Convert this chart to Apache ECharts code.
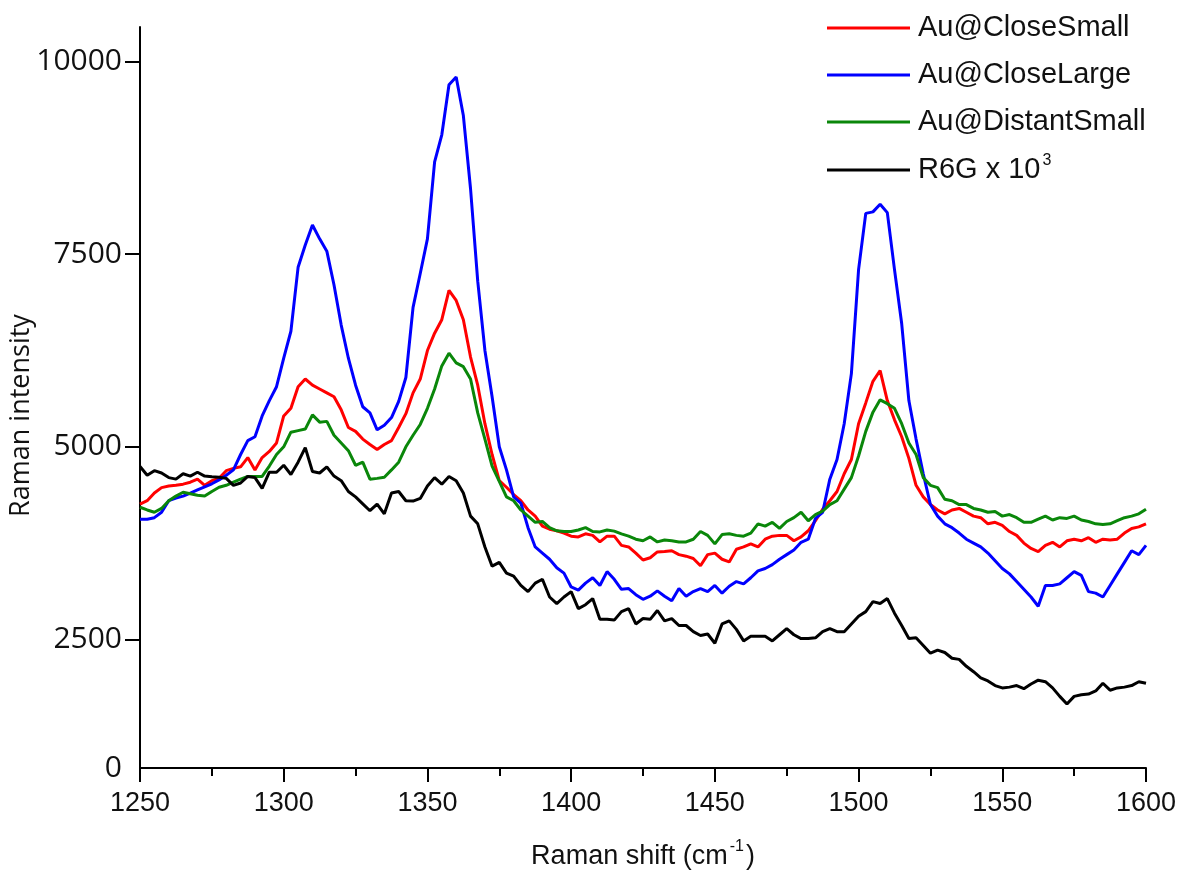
<!DOCTYPE html>
<html>
<head>
<meta charset="utf-8">
<script src="https://cdn.jsdelivr.net/npm/echarts@6/dist/echarts.min.js"></script>
<style>
html,body{margin:0;padding:0;background:#fff;}
#chart{width:1181px;height:872px;}
</style>
</head>
<body>
<div id="chart"></div>
<script>
// Raman shift (cm-1) sample positions
var ramanShift = [
1250,1252.5,1255,1257.5,1260,1262.5,1265,1267.5,1270,1272.5,
1275,1277.5,1280,1282.5,1285,1287.5,1290,1292.5,1295,1297.5,
1300,1302.5,1305,1307.5,1310,1312.5,1315,1317.5,1320,1322.5,
1325,1327.5,1330,1332.5,1335,1337.5,1340,1342.5,1345,1347.5,
1350,1352.5,1355,1357.5,1360,1362.5,1365,1367.5,1370,1372.5,
1375,1377.5,1380,1382.5,1385,1387.5,1390,1392.5,1395,1397.5,
1400,1402.5,1405,1407.5,1410,1412.5,1415,1417.5,1420,1422.5,
1425,1427.5,1430,1432.5,1435,1437.5,1440,1442.5,1445,1447.5,
1450,1452.5,1455,1457.5,1460,1462.5,1465,1467.5,1470,1472.5,
1475,1477.5,1480,1482.5,1485,1487.5,1490,1492.5,1495,1497.5,
1500,1502.5,1505,1507.5,1510,1512.5,1515,1517.5,1520,1522.5,
1525,1527.5,1530,1532.5,1535,1537.5,1540,1542.5,1545,1547.5,
1550,1552.5,1555,1557.5,1560,1562.5,1565,1567.5,1570,1572.5,
1575,1577.5,1580,1582.5,1585,1587.5,1590,1592.5,1595,1597.5,
1600];

var closeSmall = [
4255,4300,4400,4470,4490,4500,4515,4540,4580,4500,
4560,4590,4690,4720,4740,4860,4700,4860,4940,5050,
5400,5500,5780,5880,5800,5750,5700,5650,5480,5250,
5200,5100,5030,4965,5030,5080,5250,5430,5700,5880,
6250,6475,6650,7030,6900,6650,6165,5800,5300,4900,
4560,4475,4380,4300,4180,4100,3970,3930,3910,3880,
3840,3830,3870,3850,3765,3840,3840,3720,3700,3620,
3530,3560,3635,3640,3650,3600,3580,3550,3455,3600,
3620,3540,3505,3670,3700,3740,3700,3800,3840,3850,
3850,3780,3830,3910,4040,4190,4300,4420,4650,4835,
5300,5570,5850,5990,5600,5350,5130,4850,4500,4350,
4250,4180,4130,4180,4200,4150,4100,4080,4000,4020,
3980,3900,3850,3750,3680,3640,3720,3760,3700,3780,
3800,3780,3820,3760,3800,3790,3800,3880,3940,3960,
4000];

var closeLarge = [
4060,4060,4080,4150,4300,4335,4360,4400,4440,4480,
4520,4570,4630,4700,4900,5080,5130,5400,5600,5780,
6150,6500,7330,7620,7880,7700,7540,7100,6580,6150,
5800,5520,5440,5220,5280,5380,5590,5900,6810,7250,
7700,8700,9050,9700,9800,9300,8350,7150,6250,5650,
5000,4700,4350,4270,3950,3700,3620,3540,3430,3360,
3180,3140,3230,3300,3200,3380,3280,3150,3160,3080,
3020,3060,3130,3060,3000,3160,3060,3120,3160,3120,
3200,3100,3190,3250,3220,3300,3390,3420,3470,3540,
3600,3660,3760,3800,4070,4150,4580,4835,5300,5950,
7300,8030,8050,8150,8040,7300,6600,5600,5100,4650,
4250,4100,4000,3950,3880,3800,3750,3700,3620,3520,
3420,3350,3250,3150,3050,2930,3200,3200,3220,3300,
3380,3330,3120,3100,3050,3200,3350,3500,3650,3600,
3720];

var distantSmall = [
4215,4180,4150,4200,4300,4360,4410,4390,4370,4360,
4420,4475,4500,4540,4580,4615,4615,4615,4750,4900,
5000,5190,5210,5230,5415,5320,5330,5150,5050,4950,
4760,4800,4580,4590,4605,4700,4800,5000,5150,5290,
5500,5750,6050,6215,6090,6040,5880,5440,5100,4750,
4550,4350,4300,4180,4100,4020,4030,3950,3910,3900,
3900,3920,3950,3900,3895,3920,3905,3870,3840,3800,
3780,3830,3765,3790,3780,3765,3765,3800,3900,3850,
3740,3860,3870,3850,3840,3880,4000,3970,4020,3940,
4030,4080,4150,4040,4120,4165,4250,4300,4450,4600,
4880,5200,5450,5610,5560,5500,5300,5050,4900,4600,
4500,4470,4320,4300,4250,4250,4200,4180,4150,4160,
4100,4120,4080,4020,4020,4060,4100,4050,4080,4070,
4100,4050,4030,4000,3990,4000,4040,4080,4100,4130,
4190];

var r6g = [
4745,4630,4690,4660,4600,4580,4650,4620,4670,4620,
4610,4605,4590,4500,4530,4615,4600,4460,4670,4670,
4760,4640,4800,4990,4680,4660,4740,4620,4560,4420,
4350,4260,4170,4255,4130,4400,4420,4300,4295,4330,
4490,4600,4515,4615,4560,4400,4100,4000,3700,3450,
3500,3360,3320,3200,3120,3230,3280,3050,2965,3050,
3120,2900,2950,3030,2760,2760,2750,2860,2900,2700,
2770,2760,2875,2740,2770,2680,2680,2600,2550,2570,
2450,2700,2740,2630,2480,2540,2540,2540,2480,2560,
2640,2560,2510,2510,2520,2600,2640,2600,2600,2700,
2800,2860,2990,2965,3030,2840,2680,2510,2520,2420,
2320,2360,2330,2255,2240,2150,2080,2000,1960,1900,
1870,1880,1900,1860,1920,1970,1950,1870,1760,1660,
1760,1780,1790,1830,1930,1840,1870,1880,1900,1950,
1930];

var seriesNames = ['Au@CloseSmall', 'Au@CloseLarge', 'Au@DistantSmall', 'R6G x 10'];
var seriesColors = ['#ff0000', '#0000ff', '#0a870a', '#000000'];
var seriesValues = [closeSmall, closeLarge, distantSmall, r6g];

var xTicks = [1250, 1300, 1350, 1400, 1450, 1500, 1550, 1600];
var yTickValues = [2500, 5000, 7500, 10000];
var yAxisMin = 830;   // bottom of the drawn axis (labelled "0" in the figure)
var yAxisMax = 10450;

function pairs(vals) {
  return ramanShift.map(function (x, i) { return [x, vals[i]]; });
}

var chart = echarts.init(document.getElementById('chart'), null, {renderer: 'canvas'});

var series = seriesNames.map(function (n, k) {
  return {
    name: n,
    type: 'line',
    symbol: 'none',
    data: pairs(seriesValues[k]),
    lineStyle: {color: seriesColors[k], width: 3},
    itemStyle: {color: seriesColors[k]},
    z: 2
  };
});

var lgFont = 'Liberation Sans, Arial, sans-serif';

chart.setOption({
  animation: false,
  backgroundColor: '#ffffff',
  grid: {left: 140, right: 35, top: 27, bottom: 104, containLabel: false, outerBoundsMode: 'none'},
  legend: {
    orient: 'vertical',
    left: 827,
    top: 12,
    padding: 0,
    icon: 'rect',
    itemWidth: 83,
    itemHeight: 3,
    itemGap: 15,
    data: seriesNames,
    formatter: function (name) {
      return name === 'R6G x 10' ? '{t|R6G x 10}{sup|3}' : '{t|' + name + '}';
    },
    textStyle: {
      color: '#111',
      fontFamily: lgFont,
      fontSize: 29,
      lineHeight: 32,
      rich: {
        t: {fontFamily: lgFont, fontSize: 29, color: '#111', lineHeight: 32, padding: [0, 0, 0, 3]},
        sup: {fontFamily: lgFont, fontSize: 16, color: '#111', lineHeight: 32, padding: [0, 0, 18, 2]}
      }
    }
  },
  xAxis: {
    type: 'value',
    min: 1250,
    max: 1600,
    interval: 50,
    name: '{a|Raman shift (cm}{s|-1}{a|)}',
    nameLocation: 'middle',
    nameGap: 73,
    nameTextStyle: {
      rich: {
        a: {fontFamily: lgFont, fontSize: 27, color: '#111', lineHeight: 32},
        s: {fontFamily: lgFont, fontSize: 16, color: '#111', lineHeight: 32, padding: [0, 2, 20, 2]}
      }
    },
    axisLine: {show: true, onZero: false, lineStyle: {color: '#000', width: 2}},
    axisTick: {show: true, inside: false, length: 14, lineStyle: {color: '#000', width: 2}},
    minorTick: {show: true, splitNumber: 2, length: 8, lineStyle: {color: '#000', width: 2}},
    axisLabel: {
      margin: 22,
      fontFamily: lgFont,
      fontSize: 27,
      color: '#111',
      formatter: function (v) { return xTicks.indexOf(v) >= 0 ? String(v) : ''; }
    },
    splitLine: {show: false}
  },
  yAxis: {
    type: 'value',
    min: yAxisMin,
    max: yAxisMax,
    name: 'Raman intensity',
    nameLocation: 'middle',
    nameRotate: 90,
    nameGap: 105,
    nameMoveOverlap: false,
    nameTextStyle: {fontFamily: 'Open Sans, sans-serif', fontSize: 27, color: '#111', padding: [0, 36, 0, 0]},
    axisLine: {show: true, onZero: false, lineStyle: {color: '#000', width: 2}},
    axisTick: {show: true, inside: false, length: 15, customValues: yTickValues, lineStyle: {color: '#000', width: 2}},
    axisLabel: {
      margin: 18,
      fontFamily: 'Open Sans, sans-serif',
      fontSize: 30,
      color: '#111',
      customValues: [yAxisMin].concat(yTickValues),
      formatter: function (v) { return v === yAxisMin ? '0' : String(v); }
    },
    splitLine: {show: false}
  },
  series: series
});
</script>
</body>
</html>
